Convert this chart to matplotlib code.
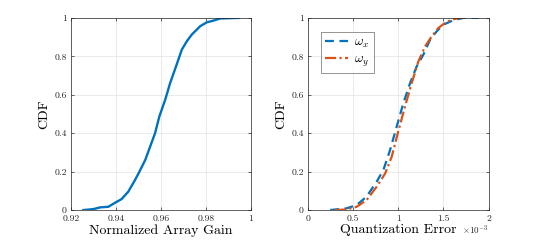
import matplotlib
matplotlib.use("Agg")
import matplotlib.pyplot as plt

plt.rcParams['font.family'] = ['cmr10', 'DejaVu Serif']
plt.rcParams['mathtext.fontset'] = 'cm'
plt.rcParams['axes.formatter.use_mathtext'] = True

# left panel: CDF of normalized array gain
gain = [0.9255, 0.930, 0.933, 0.9366, 0.9396, 0.9425, 0.9455, 0.9485, 0.950,
        0.953, 0.9552, 0.9574, 0.9593, 0.9619, 0.9641, 0.967, 0.9693, 0.9715,
        0.9737, 0.9775, 0.9804, 0.9834, 0.9863, 0.9945]
gain_cdf = [0.0, 0.005, 0.014, 0.017, 0.038, 0.057, 0.096, 0.157, 0.19,
            0.26, 0.33, 0.40, 0.487, 0.574, 0.661, 0.757, 0.835, 0.878,
            0.913, 0.957, 0.977, 0.986, 0.997, 1.0]

# right panel: quantization error (x1e-3)
err_x = [0.247, 0.43, 0.54, 0.65, 0.762, 0.836, 0.91, 0.983, 1.057, 1.131,
         1.204, 1.278, 1.352, 1.425, 1.499, 1.61, 1.72, 1.886]
cdf_x = [0.0, 0.009, 0.026, 0.07, 0.148, 0.209, 0.313, 0.435, 0.557, 0.661,
         0.748, 0.809, 0.887, 0.93, 0.965, 0.988, 1.0, 1.0]
err_y = [0.30, 0.43, 0.54, 0.65, 0.762, 0.855, 0.928, 1.0, 1.075, 1.149,
         1.223, 1.297, 1.37, 1.444, 1.518, 1.59, 1.68, 1.75]
cdf_y = [0.0, 0.003, 0.017, 0.052, 0.122, 0.19, 0.278, 0.409, 0.539, 0.661,
         0.774, 0.852, 0.904, 0.948, 0.974, 0.991, 1.0, 1.0]

blue = '#0072BD'
orange = '#D95319'

fig = plt.figure(figsize=(5.4, 2.42), dpi=100)
ax1 = fig.add_axes([0.1315, 0.132, 0.333, 0.794])
ax2 = fig.add_axes([0.570, 0.132, 0.335, 0.794])


def style(ax):
    ax.grid(True, color='#e6e6e6', linewidth=0.6)
    ax.set_axisbelow(True)
    ax.tick_params(direction='in', top=True, right=True, labelsize=7,
                   length=2.5, width=0.5, colors='#262626')
    ax.tick_params(axis='x', pad=3)
    ax.tick_params(axis='y', pad=3)
    for s in ax.spines.values():
        s.set_linewidth(0.5)
        s.set_color('#262626')
    ax.set_ylim(0, 1)
    ax.set_yticks([0, 0.2, 0.4, 0.6, 0.8, 1])
    ax.set_yticklabels(['0', '0.2', '0.4', '0.6', '0.8', '1'])
    ax.set_ylabel('CDF', fontsize=10, labelpad=3)


ax1.plot(gain, gain_cdf, color=blue, lw=1.7)
style(ax1)
ax1.set_xlim(0.92, 1.0)
ax1.set_xticks([0.92, 0.94, 0.96, 0.98, 1.0])
ax1.set_xticklabels(['0.92', '0.94', '0.96', '0.98', '1'])
ax1.set_xlabel('Normalized Array Gain', fontsize=10, labelpad=1)

ax2.plot(err_x, cdf_x, color=blue, lw=1.6, ls=(0, (4, 2.5)), label=r'$\omega_x$')
ax2.plot(err_y, cdf_y, color=orange, lw=1.6, ls=(0, (5, 1.5, 1, 1.5)), label=r'$\omega_y$')
style(ax2)
ax2.set_xlim(0, 2)
ax2.set_xticks([0, 0.5, 1, 1.5, 2])
ax2.set_xticklabels(['0', '0.5', '1', '1.5', '2'])
ax2.set_xlabel('Quantization Error', fontsize=10, labelpad=1)
ax2.text(1.0, -0.07, r'$\times10^{-3}$', transform=ax2.transAxes,
         fontsize=6.5, ha='right', va='top', color='#262626')
leg = ax2.legend(loc='upper left', bbox_to_anchor=(0.072, 0.927), fontsize=9.5,
                 frameon=True, fancybox=False, handlelength=1.7,
                 borderpad=0.35, labelspacing=0.25, handletextpad=0.5,
                 borderaxespad=0)
leg.get_frame().set_edgecolor('#444444')
leg.get_frame().set_linewidth(0.5)

fig.savefig('out.png', dpi=100)
